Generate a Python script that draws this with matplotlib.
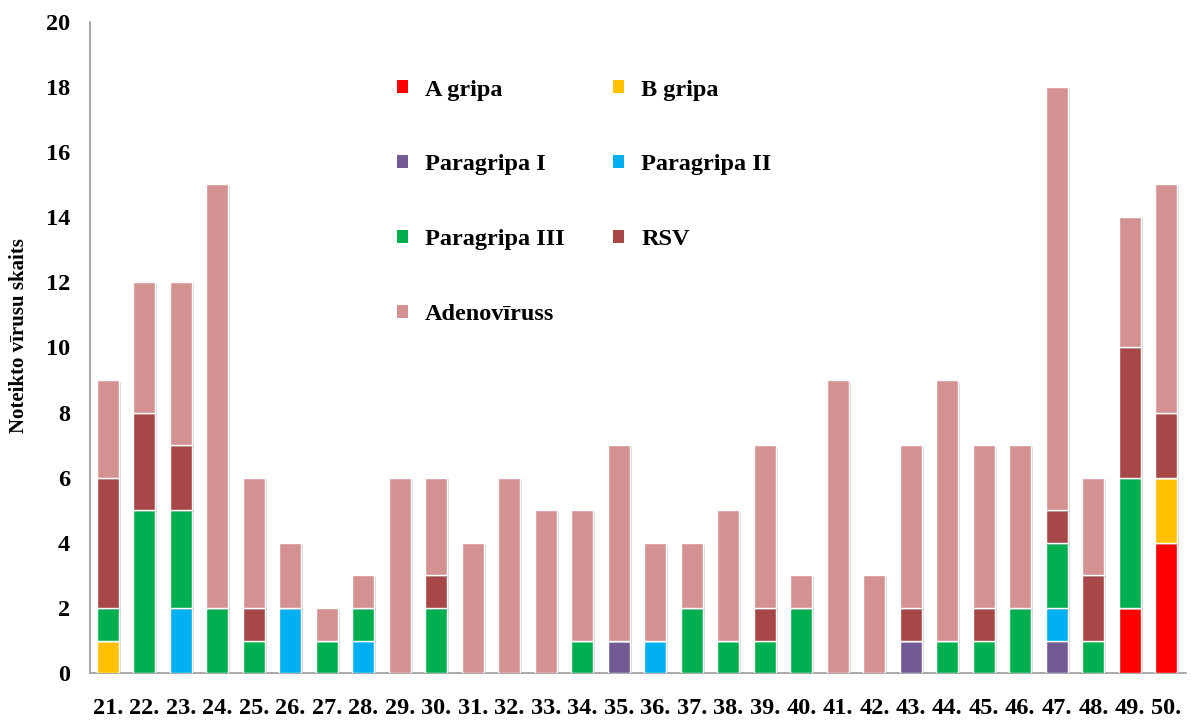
import matplotlib
matplotlib.use("Agg")
import matplotlib.pyplot as plt
import matplotlib.patheffects as pe
import numpy as np

weeks = ["21.", "22.", "23.", "24.", "25.", "26.", "27.", "28.", "29.", "30.",
         "31.", "32.", "33.", "34.", "35.", "36.", "37.", "38.", "39.", "40.",
         "41.", "42.", "43.", "44.", "45.", "46.", "47.", "48.", "49.", "50."]

a_gripa      = [0, 0, 0, 0, 0, 0, 0, 0, 0, 0, 0, 0, 0, 0, 0, 0, 0, 0, 0, 0, 0, 0, 0, 0, 0, 0, 0, 0, 2, 4]
b_gripa      = [1, 0, 0, 0, 0, 0, 0, 0, 0, 0, 0, 0, 0, 0, 0, 0, 0, 0, 0, 0, 0, 0, 0, 0, 0, 0, 0, 0, 0, 2]
paragripa_1  = [0, 0, 0, 0, 0, 0, 0, 0, 0, 0, 0, 0, 0, 0, 1, 0, 0, 0, 0, 0, 0, 0, 1, 0, 0, 0, 1, 0, 0, 0]
paragripa_2  = [0, 0, 2, 0, 0, 2, 0, 1, 0, 0, 0, 0, 0, 0, 0, 1, 0, 0, 0, 0, 0, 0, 0, 0, 0, 0, 1, 0, 0, 0]
paragripa_3  = [1, 5, 3, 2, 1, 0, 1, 1, 0, 2, 0, 0, 0, 1, 0, 0, 2, 1, 1, 2, 0, 0, 0, 1, 1, 2, 2, 1, 4, 0]
rsv          = [4, 3, 2, 0, 1, 0, 0, 0, 0, 1, 0, 0, 0, 0, 0, 0, 0, 0, 1, 0, 0, 0, 1, 0, 1, 0, 1, 2, 4, 2]
adenovirus   = [3, 4, 5, 13, 4, 2, 1, 1, 6, 3, 4, 6, 5, 4, 6, 3, 2, 4, 5, 1, 9, 3, 5, 8, 5, 5, 13, 3, 4, 7]

series_labels = ["A gripa", "B gripa", "Paragripa I", "Paragripa II",
                 "Paragripa III", "RSV", "Adenovīruss"]
series = [a_gripa, b_gripa, paragripa_1, paragripa_2, paragripa_3, rsv, adenovirus]
colors = ["#FF0000", "#FFC000", "#725A94", "#00B0F0", "#00B050", "#A84747", "#D39191"]

plt.rcParams['font.family'] = ['Liberation Serif', 'DejaVu Serif']
plt.rcParams['font.weight'] = 'bold'

fig = plt.figure(figsize=(11.96, 7.2), dpi=100)
ax = fig.add_axes([0.075, 0.065, 0.917, 0.905])

x = np.arange(len(weeks))
bottom = np.zeros(len(weeks))
shadow = [pe.SimplePatchShadow(offset=(1.5, -1.2), shadow_rgbFace='#888888', alpha=0.35), pe.Normal()]
containers = []
for vals, lab, col in zip(series, series_labels, colors):
    v = np.array(vals, dtype=float)
    bars = ax.bar(x, v, 0.6, bottom=bottom, color=col, edgecolor='white',
                  linewidth=1.0, label=lab, zorder=3)
    for b, val in zip(bars, v):
        if val > 0:
            b.set_path_effects(shadow)
    containers.append(bars)
    bottom += v

ax.set_xlim(-0.5, len(weeks) - 0.5 + 0.05)
ax.set_ylim(0, 20)
ax.set_yticks(range(0, 21, 2))
ax.set_xticks(x)
ax.set_xticklabels(weeks)
ax.tick_params(axis='y', length=0, pad=14, labelsize=17.5)
ax.tick_params(axis='x', length=0, pad=18, labelsize=17.5)
for lbl in ax.get_xticklabels() + ax.get_yticklabels():
    lbl.set_fontweight('bold')

for s in ['top', 'right']:
    ax.spines[s].set_visible(False)
for s in ['left', 'bottom']:
    ax.spines[s].set_color('#9a9a9a')
    ax.spines[s].set_linewidth(1.2)

ax.set_ylabel("Noteikto vīrusu skaits", fontsize=15, fontweight='bold')
ax.yaxis.set_label_coords(-0.0645, 0.518)
ax.yaxis.label.set_verticalalignment('center')
ax.yaxis.label.set_horizontalalignment('center')

# row-wise legend order for 2 columns
order = [0, 2, 4, 6, 1, 3, 5]
leg = ax.legend([containers[i] for i in order], [series_labels[i] for i in order],
                ncol=2, loc='upper left', bbox_to_anchor=(0.28, 0.911),
                frameon=False, prop={'size': 17.5, 'weight': 'bold'},
                borderpad=0, borderaxespad=0,
                handlelength=0.45, handleheight=0.45, handletextpad=0.7,
                labelspacing=2.21, columnspacing=2.0)
for h in leg.legend_handles:
    h.set_path_effects([])
    h.set_edgecolor('none')

fig.savefig("out.png", dpi=100)
